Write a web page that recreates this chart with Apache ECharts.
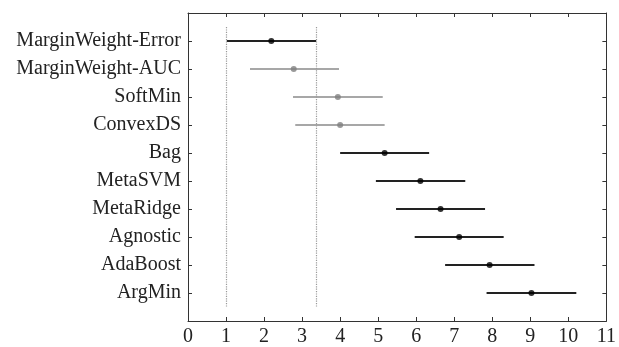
<!DOCTYPE html>
<html>
<head>
<meta charset="utf-8">
<script src="https://cdn.jsdelivr.net/npm/echarts@6/dist/echarts.min.js"></script>
<style>
  html, body { margin: 0; padding: 0; background: #fff; }
  #main { width: 619px; height: 347px; }
</style>
</head>
<body>
<div id="main"></div>
<script>
// rows top to bottom
const methods = ['MarginWeight-Error', 'MarginWeight-AUC', 'SoftMin', 'ConvexDS', 'Bag',
  'MetaSVM', 'MetaRidge', 'Agnostic', 'AdaBoost', 'ArgMin']
const meanRank = [2.19, 2.78, 3.94, 4.00, 5.17, 6.11, 6.64, 7.13, 7.93, 9.03]
const lower = [1.02, 1.63, 2.76, 2.82, 4.00, 4.94, 5.47, 5.96, 6.76, 7.85]
const upper = [3.37, 3.97, 5.12, 5.17, 6.34, 7.29, 7.81, 8.30, 9.11, 10.21]
const grayRows = ['MarginWeight-AUC', 'SoftMin', 'ConvexDS'] // drawn in gray
const cdLines = [1, 3.37]
const xTicks = [0, 1, 2, 3, 4, 5, 6, 7, 8, 9, 10, 11]

const chart = echarts.init(document.getElementById('main'))
const font = 'Liberation Serif'
const axisColor = '#333'

const barData = methods.map((m, i) => [lower[i], upper[i], i + 1, grayRows.includes(m) ? 1 : 0])
const pointData = methods.map((m, i) => ({
  value: [meanRank[i], i + 1],
  itemStyle: { color: grayRows.includes(m) ? '#808080' : '#000' }
}))

const sideAxis = (extra) => Object.assign({
  type: 'value', min: 0, max: 11, interval: 1,
  axisLine: { show: true, onZero: false, lineStyle: { color: axisColor, width: 1 } },
  axisTick: { show: true, inside: true, length: 4, lineStyle: { color: axisColor } },
  splitLine: { show: false }
}, extra)

chart.setOption({
  animation: false,
  grid: { left: 188, right: 8, top: 13, bottom: 24 },
  xAxis: [
    sideAxis({
      position: 'bottom',
      axisLabel: { color: '#222', fontFamily: font, fontSize: 20, margin: 6,
        formatter: v => xTicks.includes(v) ? String(v) : '' }
    }),
    sideAxis({ position: 'top', axisLabel: { show: false } })
  ],
  yAxis: [
    sideAxis({
      position: 'left', inverse: true,
      axisLabel: { color: '#222', fontFamily: font, fontSize: 20, margin: 7,
        formatter: v => methods[v - 1] || '' }
    }),
    sideAxis({ position: 'right', inverse: true, axisLabel: { show: false } })
  ],
  series: [
    {
      type: 'custom',
      data: barData,
      encode: { x: [0, 1], y: 2 },
      renderItem: function (params, api) {
        const y = api.value(2)
        const p1 = api.coord([api.value(0), y])
        const p2 = api.coord([api.value(1), y])
        const gray = api.value(3) === 1
        return {
          type: 'line',
          shape: { x1: p1[0], y1: p1[1], x2: p2[0], y2: p2[1] },
          style: { stroke: gray ? '#8a8a8a' : '#222', lineWidth: gray ? 1.5 : 2 }
        }
      },
      z: 2
    },
    {
      type: 'scatter',
      data: pointData,
      symbolSize: 6,
      z: 3,
      markLine: {
        silent: true,
        symbol: 'none',
        label: { show: false },
        lineStyle: { color: '#999', type: 'dotted', width: 1.2 },
        data: cdLines.map(x => [{ coord: [x, 0.5] }, { coord: [x, 10.5] }])
      }
    }
  ]
})
</script>
</body>
</html>
